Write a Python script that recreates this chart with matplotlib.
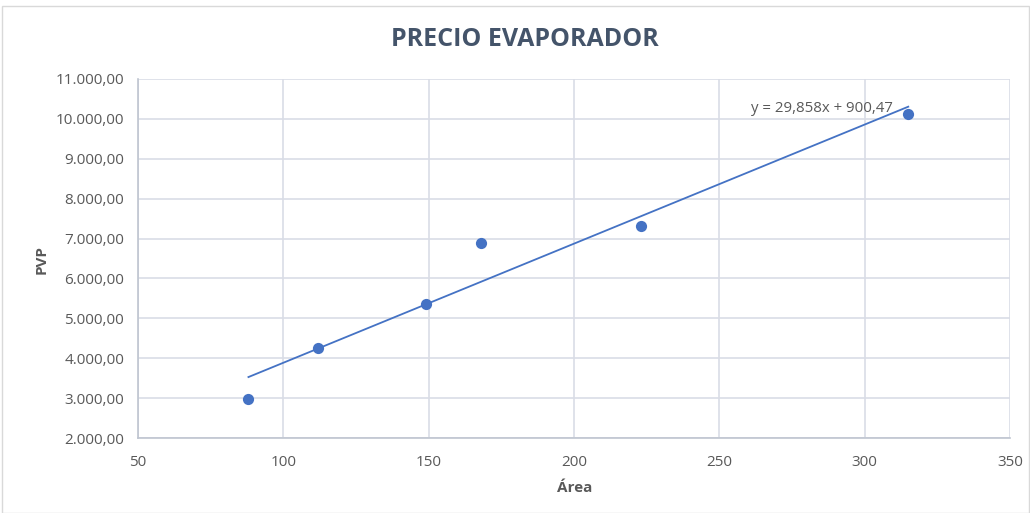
import matplotlib
matplotlib.use("Agg")
import matplotlib.pyplot as plt
import numpy as np
from matplotlib.ticker import FuncFormatter
from matplotlib.patches import Rectangle

area = [88, 112, 149, 168, 223, 315]
pvp = [2970, 4255, 5355, 6885, 7310, 10115]
slope = 29.858
intercept = 900.47
title = "PRECIO EVAPORADOR"
xlabel = "Área"
ylabel = "PVP"
eq_text = "y = 29,858x + 900,47"

plt.rcParams['font.family'] = ['Open Sans', 'DejaVu Sans']

fig = plt.figure(figsize=(10.3, 5.13), dpi=100)
ax = fig.add_axes([138/1030, 1-438/513, (1010-138)/1030, (438-79)/513])

txt_col = '#595959'
grid_col = '#d9dde6'

ax.scatter(area, pvp, s=65, color='#4472c4', zorder=3, linewidths=0)
xs = np.array([min(area), max(area)])
ax.plot(xs, slope*xs + intercept, color='#4472c4', lw=1.3, zorder=2)

ax.set_xlim(50, 350)
ax.set_ylim(2000, 11000)
ax.set_xticks(np.arange(50, 351, 50))
ax.set_yticks(np.arange(2000, 11001, 1000))

def fmt(v, pos):
    s = f"{v:,.2f}"
    return s.replace(",", "X").replace(".", ",").replace("X", ".")
ax.yaxis.set_major_formatter(FuncFormatter(fmt))

ax.grid(True, color=grid_col, lw=1.2)
ax.set_axisbelow(True)
for s in ['top', 'right']:
    ax.spines[s].set_visible(False)
for s in ['left', 'bottom']:
    ax.spines[s].set_color('#bfc5d0')
    ax.spines[s].set_linewidth(1.2)
ax.tick_params(length=0, labelsize=11, colors=txt_col, pad=10)
ax.tick_params(axis='x', pad=12)

ax.text(261, 10270, eq_text, fontsize=10.8, color=txt_col, va='center', ha='left')

fig.text(525/1030, 1-40/513, title, ha='center', va='center', fontsize=18,
         fontweight='bold', color='#44546a')
fig.text(575/1030, 1-488/513, xlabel, ha='center', va='center', fontsize=11,
         fontweight='bold', color=txt_col)
fig.text(42/1030, 1-260/513, ylabel, ha='center', va='center', fontsize=11,
         fontweight='bold', color=txt_col, rotation=90)

fig.patches.append(Rectangle((2/1030, 0), 1-3/1030, 1-6/513, transform=fig.transFigure,
                             fill=False, edgecolor='#d9d9d9', lw=1))

fig.savefig("out.png", dpi=100)
